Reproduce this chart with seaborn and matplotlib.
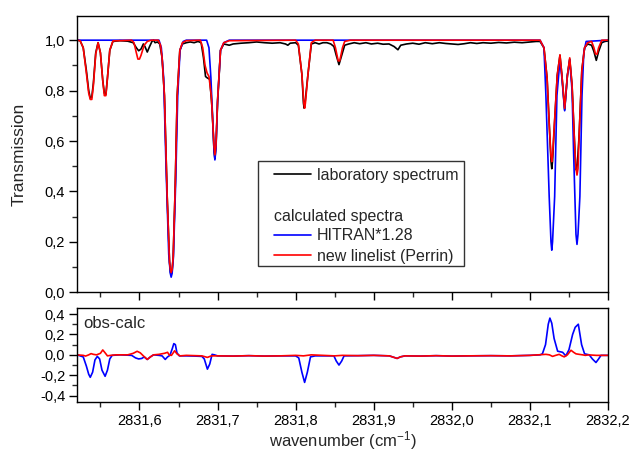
import numpy as np
import pandas as pd
import matplotlib
matplotlib.use("Agg")
import matplotlib.pyplot as plt
import seaborn as sns
from matplotlib.ticker import MultipleLocator, FuncFormatter
from matplotlib.lines import Line2D
from matplotlib.patches import Rectangle

# ---------------- data ----------------
lab_x = [2831.52, 2831.524, 2831.528, 2831.532, 2831.535, 2831.537, 2831.539, 2831.541, 2831.544, 2831.547,
         2831.550, 2831.553, 2831.555, 2831.557, 2831.559, 2831.562, 2831.566, 2831.575, 2831.585, 2831.592,
         2831.596, 2831.599, 2831.602, 2831.605, 2831.607, 2831.610, 2831.613, 2831.616, 2831.618,
         2831.620, 2831.623, 2831.626, 2831.629, 2831.632, 2831.6355, 2831.6385, 2831.6396, 2831.6406, 2831.6418,
         2831.6432, 2831.6458, 2831.6483, 2831.6517, 2831.655, 2831.660, 2831.665, 2831.670, 2831.675, 2831.679,
         2831.682, 2831.6846, 2831.687, 2831.690, 2831.693, 2831.6955, 2831.6966, 2831.698, 2831.700, 2831.7038, 2831.708,
         2831.715, 2831.720, 2831.730, 2831.740, 2831.750, 2831.760, 2831.770, 2831.780, 2831.787,
         2831.790, 2831.793, 2831.800, 2831.8035, 2831.808, 2831.810, 2831.811, 2831.812, 2831.8158, 2831.8201, 2831.825,
         2831.830, 2831.835, 2831.840, 2831.845, 2831.849, 2831.852, 2831.8555, 2831.859, 2831.8628,
         2831.868, 2831.875, 2831.882, 2831.890, 2831.897, 2831.905, 2831.912, 2831.9196, 2831.926,
         2831.931, 2831.9346, 2831.942, 2831.950, 2831.958, 2831.966, 2831.975, 2831.984, 2831.992,
         2832.000, 2832.008, 2832.016, 2832.024, 2832.032, 2832.040, 2832.050, 2832.060, 2832.070,
         2832.080, 2832.090, 2832.100, 2832.108, 2832.113, 2832.118, 2832.122, 2832.125, 2832.127, 2832.128, 2832.129,
         2832.131, 2832.135, 2832.1385, 2832.141, 2832.1445, 2832.148, 2832.151, 2832.154, 2832.157,
         2832.1585, 2832.1595, 2832.1608, 2832.163, 2832.1665, 2832.170, 2832.174, 2832.179, 2832.182, 2832.185, 2832.188,
         2832.192, 2832.196, 2832.200]
lab_y = [1.0, 0.998, 0.97, 0.88, 0.80, 0.77, 0.775, 0.83, 0.95, 0.99,
         0.95, 0.84, 0.79, 0.785, 0.85, 0.96, 0.995, 0.998, 0.996, 0.99,
         0.97, 0.958, 0.965, 0.985, 0.975, 0.953, 0.975, 0.995, 1.0,
         0.99, 0.993, 0.985, 0.93, 0.78, 0.38, 0.12, 0.08, 0.07, 0.085,
         0.14, 0.42, 0.78, 0.96, 0.985, 0.99, 0.993, 0.99, 0.995, 0.99,
         0.93, 0.856, 0.85, 0.845, 0.73, 0.56, 0.53, 0.58, 0.75, 0.96, 0.985,
         0.98, 0.985, 0.988, 0.99, 0.993, 0.99, 0.988, 0.99, 0.985,
         0.98, 0.988, 0.99, 0.98, 0.865, 0.75, 0.73, 0.75, 0.865, 0.985, 0.99,
         0.985, 0.99, 0.99, 0.985, 0.975, 0.94, 0.903, 0.94, 0.98,
         0.985, 0.99, 0.986, 0.99, 0.985, 0.988, 0.984, 0.985, 0.975,
         0.962, 0.98, 0.985, 0.988, 0.984, 0.99, 0.986, 0.99, 0.987,
         0.985, 0.983, 0.986, 0.99, 0.987, 0.99, 0.988, 0.991, 0.989,
         0.992, 0.99, 0.993, 0.995, 0.995, 0.97, 0.85, 0.65, 0.52, 0.49, 0.52,
         0.64, 0.86, 0.94, 0.86, 0.724, 0.86, 0.925, 0.82, 0.6,
         0.5, 0.485, 0.51, 0.62, 0.88, 0.97, 0.985, 0.98, 0.955, 0.92, 0.955,
         0.99, 0.995, 0.997]

hit_x = [2831.52, 2831.625, 2831.628, 2831.631, 2831.634, 2831.6375, 2831.6395, 2831.6406, 2831.6418, 2831.6435,
         2831.6465, 2831.649, 2831.652, 2831.656, 2831.660, 2831.686, 2831.689, 2831.6915, 2831.694,
         2831.6955, 2831.6966, 2831.698, 2831.700, 2831.7038, 2831.708, 2831.715, 2832.113, 2832.118,
         2832.1205, 2832.1247, 2832.127, 2832.128, 2832.129, 2832.1317, 2832.1346, 2832.1385, 2832.141,
         2832.1445, 2832.148, 2832.151, 2832.154, 2832.156, 2832.159, 2832.1603, 2832.1616, 2832.164,
         2832.1667, 2832.169, 2832.172, 2832.200]
hit_y = [1.0, 1.0, 0.97, 0.85, 0.5, 0.15, 0.075, 0.06, 0.075, 0.14,
         0.45, 0.78, 0.96, 0.995, 1.0, 1.0, 0.97, 0.85, 0.67,
         0.56, 0.525, 0.57, 0.76, 0.96, 0.99, 1.0, 1.0, 0.97,
         0.78, 0.38, 0.2, 0.167, 0.2, 0.38, 0.78, 0.922, 0.85,
         0.72, 0.86, 0.922, 0.8, 0.55, 0.23, 0.19, 0.23, 0.38,
         0.78, 0.95, 0.995, 1.0]

new_x = [2831.52, 2831.524, 2831.528, 2831.532, 2831.535, 2831.537, 2831.539, 2831.541, 2831.544, 2831.547,
         2831.550, 2831.553, 2831.555, 2831.557, 2831.559, 2831.562, 2831.566, 2831.590, 2831.593, 2831.596,
         2831.598, 2831.600, 2831.602, 2831.606, 2831.610, 2831.615, 2831.624, 2831.627, 2831.629, 2831.632,
         2831.6355, 2831.6385, 2831.6396, 2831.6406, 2831.6418, 2831.6432, 2831.6458, 2831.6483, 2831.6517,
         2831.655, 2831.660, 2831.678, 2831.681, 2831.684, 2831.6866, 2831.689, 2831.692, 2831.6955,
         2831.6966, 2831.698, 2831.700, 2831.7038, 2831.708, 2831.715, 2831.800, 2831.8035, 2831.808,
         2831.8105, 2831.8115, 2831.8125, 2831.8158, 2831.8201, 2831.825, 2831.848, 2831.851, 2831.8545,
         2831.8565, 2831.860, 2831.8628, 2831.870, 2832.113, 2832.118, 2832.122, 2832.125, 2832.127,
         2832.128, 2832.129, 2832.131, 2832.135, 2832.1385, 2832.141, 2832.1445, 2832.148, 2832.151,
         2832.154, 2832.157, 2832.159, 2832.1603, 2832.1616, 2832.163, 2832.1665, 2832.170, 2832.174,
         2832.179, 2832.182, 2832.184, 2832.186, 2832.188, 2832.192, 2832.200]
new_y = [1.0, 0.998, 0.97, 0.87, 0.79, 0.765, 0.765, 0.82, 0.945, 0.99,
         0.95, 0.84, 0.78, 0.78, 0.85, 0.96, 0.997, 1.0, 0.99, 0.95,
         0.925, 0.925, 0.94, 0.98, 0.995, 1.0, 1.0, 0.98, 0.93, 0.78,
         0.38, 0.12, 0.09, 0.078, 0.09, 0.14, 0.42, 0.78, 0.96,
         0.99, 0.998, 1.0, 0.97, 0.9, 0.87, 0.856, 0.78, 0.58,
         0.545, 0.585, 0.76, 0.96, 0.99, 0.998, 1.0, 0.985, 0.865,
         0.75, 0.73, 0.75, 0.865, 0.99, 1.0, 1.0, 0.97, 0.918,
         0.918, 0.97, 0.995, 1.0, 1.0, 0.97, 0.85, 0.65, 0.54,
         0.518, 0.54, 0.65, 0.86, 0.942, 0.86, 0.73, 0.86, 0.93,
         0.82, 0.6, 0.49, 0.465, 0.49, 0.62, 0.88, 0.97, 0.99,
         0.995, 0.97, 0.945, 0.945, 0.97, 1.0, 1.0]

res_hit_x = [2831.52, 2831.528, 2831.532, 2831.535, 2831.537, 2831.540, 2831.543, 2831.546, 2831.549,
             2831.552, 2831.556, 2831.559, 2831.562, 2831.565, 2831.575, 2831.590, 2831.595, 2831.599,
             2831.603, 2831.606, 2831.610, 2831.614, 2831.618, 2831.625, 2831.629, 2831.633, 2831.636,
             2831.639, 2831.642, 2831.644, 2831.646, 2831.648, 2831.651, 2831.660, 2831.670, 2831.680,
             2831.683, 2831.687, 2831.690, 2831.693, 2831.696, 2831.700, 2831.720, 2831.740, 2831.760,
             2831.780, 2831.800, 2831.804, 2831.808, 2831.8115, 2831.815, 2831.819, 2831.825, 2831.849,
             2831.852, 2831.8555, 2831.859, 2831.862, 2831.880, 2831.900, 2831.920, 2831.926, 2831.930,
             2831.934, 2831.940, 2831.960, 2831.980, 2832.000, 2832.020, 2832.050, 2832.075, 2832.100,
             2832.113, 2832.116, 2832.120, 2832.1235, 2832.1256, 2832.128, 2832.131, 2832.1355, 2832.1419,
             2832.146, 2832.150, 2832.1547, 2832.158, 2832.162, 2832.1662, 2832.170, 2832.176, 2832.180,
             2832.1846, 2832.188, 2832.191, 2832.200]
res_hit_y = [0.0, -0.02, -0.11, -0.19, -0.22, -0.17, -0.05, -0.015, -0.04,
             -0.15, -0.21, -0.15, -0.04, -0.005, 0.0, -0.005, -0.03, -0.04,
             -0.035, -0.02, -0.045, -0.02, 0.0, -0.005, -0.01, -0.045, -0.02,
             -0.005, 0.06, 0.11, 0.10, 0.02, -0.01, -0.01, -0.012, -0.015,
             -0.04, -0.14, -0.09, 0.005, 0.0, -0.01, -0.012, -0.008, -0.012,
             -0.01, -0.01, -0.03, -0.17, -0.27, -0.17, -0.02, -0.01, -0.01,
             -0.06, -0.10, -0.06, -0.01, -0.008, -0.005, -0.01, -0.025, -0.035,
             -0.02, -0.01, -0.012, -0.008, -0.012, -0.01, -0.008, -0.01, -0.005,
             0.0, 0.01, 0.10, 0.30, 0.36, 0.31, 0.16, 0.036, 0.025,
             -0.01, 0.05, 0.20, 0.27, 0.30, 0.10, 0.01, 0.0, -0.04,
             -0.075, -0.04, -0.005, -0.005]

res_new_x = [2831.52, 2831.528, 2831.531, 2831.535, 2831.538, 2831.541, 2831.545, 2831.550, 2831.553,
             2831.556, 2831.559, 2831.563, 2831.570, 2831.585, 2831.592, 2831.597, 2831.601, 2831.605,
             2831.610, 2831.614, 2831.618, 2831.625, 2831.632, 2831.636, 2831.638, 2831.641, 2831.645,
             2831.648, 2831.652, 2831.660, 2831.680, 2831.687, 2831.692, 2831.700, 2831.720, 2831.740,
             2831.760, 2831.780, 2831.800, 2831.810, 2831.820, 2831.850, 2831.860, 2831.880, 2831.900,
             2831.920, 2831.926, 2831.930, 2831.934, 2831.940, 2831.960, 2831.980, 2832.000, 2832.020,
             2832.050, 2832.075, 2832.100, 2832.1205, 2832.125, 2832.129, 2832.133, 2832.1375, 2832.141,
             2832.144, 2832.148, 2832.1526, 2832.156, 2832.159, 2832.163, 2832.1676, 2832.171, 2832.175,
             2832.185, 2832.200]
res_new_y = [0.0, -0.005, -0.012, 0.0, 0.012, 0.005, 0.0, 0.015, 0.048,
             0.02, -0.01, -0.005, 0.0, 0.0, 0.015, 0.035, 0.02, -0.01,
             -0.045, -0.02, 0.0, 0.005, 0.015, 0.025, 0.0, -0.005, 0.04,
             0.01, -0.01, -0.005, -0.01, -0.025, -0.01, -0.01, -0.012, -0.008,
             -0.012, -0.01, -0.005, -0.01, 0.0, -0.01, -0.005, -0.008, -0.005,
             -0.01, -0.025, -0.035, -0.02, -0.01, -0.012, -0.008, -0.012, -0.01,
             -0.008, -0.01, -0.005, 0.005, 0.0, -0.015, -0.005, 0.005, -0.01,
             -0.02, 0.0, 0.045, 0.025, 0.01, 0.005, 0.0, -0.005, 0.0,
             -0.005, -0.005]

series_labels = ["laboratory spectrum", "HITRAN*1.28", "new linelist (Perrin)"]
legend_title = "calculated spectra"
x_ticks = [2831.6, 2831.7, 2831.8, 2831.9, 2832.0, 2832.1, 2832.2]

# ---------------- style ----------------
sns.set_style("ticks")
plt.rcParams['font.family'] = ['Liberation Sans', 'DejaVu Sans']
plt.rcParams['mathtext.fontset'] = 'custom'
plt.rcParams['mathtext.rm'] = 'Liberation Sans'
plt.rcParams['mathtext.default'] = 'regular'
plt.rcParams['axes.linewidth'] = 1.0
plt.rcParams['axes.edgecolor'] = 'black'

fig = plt.figure(figsize=(6.29, 4.54), dpi=100)
ax = fig.add_axes([0.1224, 0.3562, 0.8442, 0.6086])
axr = fig.add_axes([0.1224, 0.1152, 0.8442, 0.2057])

lw = 1.2
sns.lineplot(x=lab_x, y=lab_y, ax=ax, color='black', lw=lw, sort=False, estimator=None)
sns.lineplot(x=hit_x, y=hit_y, ax=ax, color='#0000FF', lw=lw, sort=False, estimator=None)
sns.lineplot(x=new_x, y=new_y, ax=ax, color='#FF0000', lw=lw, sort=False, estimator=None)

sns.lineplot(x=res_hit_x, y=res_hit_y, ax=axr, color='#0000FF', lw=lw, sort=False, estimator=None)
sns.lineplot(x=res_new_x, y=res_new_y, ax=axr, color='#FF0000', lw=lw, sort=False, estimator=None)

for a in (ax, axr):
    a.set_xlim(2831.52, 2832.2)
    a.set_xticks(x_ticks)
    a.xaxis.set_minor_locator(MultipleLocator(0.05))
    a.tick_params(axis='both', which='major', direction='out', length=5.5, width=1.0,
                  labelsize=10.5, colors='black', top=False, right=False, pad=3)
    a.tick_params(axis='both', which='minor', direction='out', length=3.5, width=1.0,
                  top=False, right=False)
    for s in a.spines.values():
        s.set_visible(True)
        s.set_color('black')
        s.set_linewidth(1.0)

ax.set_ylim(0, 1.096)
ax.set_yticks([0.0, 0.2, 0.4, 0.6, 0.8, 1.0])
ax.yaxis.set_minor_locator(MultipleLocator(0.1))
ax.yaxis.set_major_formatter(FuncFormatter(lambda v, p: ('%.1f' % v).replace('.', ',')))
ax.tick_params(axis='x', labelbottom=False)
ax.set_ylabel("Transmission", fontsize=12.5, labelpad=13)
ax.set_xlabel("")

axr.set_ylim(-0.459, 0.456)
axr.set_yticks([-0.4, -0.2, 0.0, 0.2, 0.4])
axr.yaxis.set_minor_locator(MultipleLocator(0.1))
axr.yaxis.set_major_formatter(FuncFormatter(
    lambda v, p: ('0,0' if abs(v) < 1e-9 else ('%.1f' % v).replace('.', ','))))
axr.xaxis.set_major_formatter(FuncFormatter(lambda v, p: ('%.1f' % v).replace('.', ',')))
axr.set_xlabel("wavenumber (cm$^{-1}$)", fontsize=12, labelpad=1.5)
axr.set_ylabel("")
axr.text(0.012, 0.84, "obs-calc", transform=axr.transAxes, fontsize=12,
         ha='left', va='center')

# legend: frame box + entries
ax.add_patch(Rectangle((0.3414, 0.0963), 0.3880, 0.3800, transform=ax.transAxes,
                       facecolor='white', edgecolor='#333333', lw=1.0, zorder=4))
blank = Line2D([], [], color='none')
handles = [Line2D([], [], color='black', lw=lw), blank, blank,
           Line2D([], [], color='#0000FF', lw=lw), Line2D([], [], color='#FF0000', lw=lw)]
labels = [series_labels[0], " ", " ", series_labels[1], series_labels[2]]
leg = ax.legend(handles, labels, loc='upper left', bbox_to_anchor=(0.371, 0.451),
                fontsize=11.5, frameon=False, handlelength=2.3, handletextpad=0.4,
                borderpad=0, labelspacing=0.33, borderaxespad=0)
leg.set_zorder(6)
ax.text(0.371, 0.273, legend_title, transform=ax.transAxes, fontsize=11.5,
        ha='left', va='center', zorder=7)

fig.savefig("out.png", dpi=100)
